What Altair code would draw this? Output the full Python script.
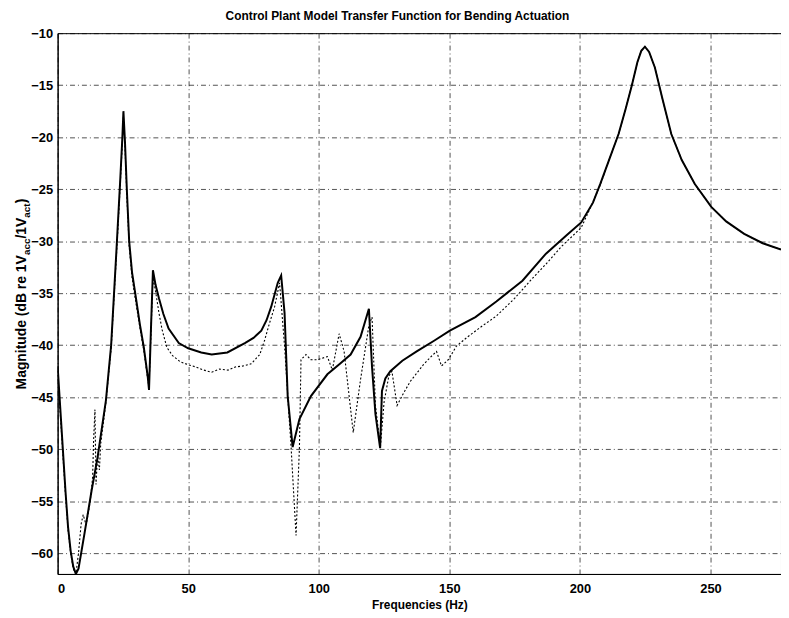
import altair as alt
import pandas as pd

# ---- data ----
freq_model = [0, 1, 2, 3, 4, 5, 6, 7, 8, 10.3, 13, 15.3, 18.5, 20.5, 22.5, 24, 24.8, 25.2, 25.8,
              26.5, 27.4, 28.5, 29.9, 31.5, 33, 34.5, 35, 35.8, 36.5, 37.5, 38.8, 40.5, 42.5, 46.4,
              50, 55, 59, 65, 71.7, 75, 78, 80, 81.8, 84.3, 85.6, 86.9, 88.1, 90, 92.6, 97, 103.3,
              108, 112.2, 116, 119.2, 120.4, 121.7, 123.5, 124.2, 125.5, 127.4, 132, 137.5, 144,
              150.2, 160, 168, 178, 187, 195, 200.5, 205, 207.8, 211, 214.8, 217.5, 219.9, 222,
              223.5, 224.9, 226.5, 228.7, 231.5, 235, 239, 244, 250.3, 256, 262.9, 270, 277]
mag_model = [-42, -46, -50, -54, -57.5, -59.8, -61.3, -62, -61.5, -58.1, -54, -50.8, -45.3, -40,
             -31, -24, -20, -17.5, -20.5, -25, -30, -33, -35.3, -38, -40.2, -43, -44.3, -38, -32.8,
             -34.2, -35.5, -37, -38.4, -39.8, -40.3, -40.7, -40.9, -40.7, -39.8, -39.3, -38.6,
             -37.6, -36.3, -34, -33.3, -36.9, -44.9, -49.8, -47.1, -44.9, -42.8, -41.8, -40.9,
             -39.2, -36.5, -42.1, -46.6, -49.9, -44.4, -43.2, -42.5, -41.5, -40.6, -39.6, -38.6,
             -37.3, -35.8, -33.8, -31.2, -29.4, -28.2, -26.3, -24.5, -22.3, -19.7, -17.3, -15,
             -12.8, -11.7, -11.3, -11.8, -13.3, -16.2, -19.7, -22.2, -24.5, -26.7, -28.1, -29.3,
             -30.2, -30.8]

freq_meas = [0, 1, 2, 3, 4, 5, 6, 7, 8, 9, 9.8, 10.9, 11.5, 12.5, 13.4, 13.8, 14.3, 14.7, 15.3,
             16, 16.5, 18.5, 20.5, 22.5, 24, 24.8, 25.2, 25.8, 26.5, 27.4, 28.5, 29.9, 31.5, 33,
             34.5, 35, 35.8, 36.5, 37.5, 38.8, 40, 41.8, 44, 47, 50.2, 53, 56, 59, 62, 65.3, 68,
             71, 74.1, 77.4, 79.3, 81, 83.1, 85, 86.9, 89.4, 91.3, 92.6, 93.2, 95.1, 97, 99.5,
             103.3, 105.2, 107.8, 109.7, 113.2, 116, 119.2, 120.4, 121.7, 123.6, 125, 126.8, 128,
             130, 132.5, 135, 137.5, 140, 142.6, 145.1, 147, 149.6, 152.7, 157, 162.9, 168, 175,
             181, 187, 193, 200.5, 204, 207.8, 211, 214.8, 217.5, 219.9, 222, 223.5, 224.9,
             226.5, 228.7, 231.5, 235, 239, 244, 250.3, 256, 262.9, 270, 277]
mag_meas = [-42.5, -46.5, -50.5, -54.3, -57.8, -60, -61.5, -62, -60, -57.2, -56.3, -57.3, -56.5,
            -55, -52.7, -49, -46.2, -53.4, -50.6, -52, -49.5, -45.5, -40.3, -31.5, -24.5, -20.5,
            -18, -21, -25.5, -30.5, -33.5, -35.8, -38.3, -40.5, -43.3, -44, -38.5, -33.5, -34.8,
            -36.9, -38.5, -40.2, -41, -41.6, -41.9, -42.1, -42.4, -42.6, -42.3, -42.4, -42.1, -42,
            -41.8, -40.9, -39.5, -38, -36.3, -34, -40.1, -49.8, -58.3, -49.8, -41.4, -40.9, -41.4,
            -41.4, -41.1, -42.4, -38.9, -40.6, -48.4, -43.3, -38.1, -37.3, -45.8, -49.8, -45.5,
            -43, -42.5, -45.8, -44.6, -43.5, -42.7, -41.9, -41.2, -40.6, -42, -41.4, -40.1, -39.2,
            -38.1, -37.2, -35.5, -33.8, -32.2, -30.5, -28.7, -26.8, -24.6, -22.3, -19.7, -17.3,
            -15, -12.8, -11.7, -11.3, -11.8, -13.3, -16.2, -19.7, -22.2, -24.5, -26.7, -28.1,
            -29.3, -30.2, -30.8]

x_ticks = [0, 50, 100, 150, 200, 250]
y_ticks = [-10, -15, -20, -25, -30, -35, -40, -45, -50, -55, -60]
title_text = "Control Plant Model Transfer Function for Bending Actuation"
x_title = "Frequencies (Hz)"
ylabel_parts = ["Magnitude (dB re 1V", "acc", "/1V", "act", ")"]

# ---- styling / layout ----
FONT = "Liberation Sans"
W, H = 729, 545
x_dom = [0, 277]
y_dom = [-62, -10]

model_df = pd.DataFrame({"freq": freq_model, "mag": mag_model})
meas_df = pd.DataFrame({"freq": freq_meas, "mag": mag_meas})
one_row = pd.DataFrame({"k": [0]})

x_enc = alt.X("freq:Q",
              scale=alt.Scale(domain=x_dom, nice=False, zero=False),
              axis=alt.Axis(values=x_ticks, title=x_title, format="d"))
y_enc = alt.Y("mag:Q",
              scale=alt.Scale(domain=y_dom, nice=False, zero=False),
              axis=alt.Axis(values=y_ticks, title="", format="d"))

meas = alt.Chart(meas_df).mark_line(
    color="black", strokeWidth=1.1, strokeDash=[2, 2], clip=True
).encode(x=x_enc, y=y_enc)

model = alt.Chart(model_df).mark_line(
    color="black", strokeWidth=2, clip=True
).encode(x=x_enc, y=y_enc)

# y-axis title with subscripts, built from rotated text pieces
MAIN, SUB = 14, 10
main_x, sub_x = -32, -28
piece_pos = [(main_x, 359, MAIN), (sub_x, 223.6, SUB), (main_x, 207.0, MAIN),
             (sub_x, 186.0, SUB), (main_x, 171.5, MAIN)]
pieces = []
for txt, (px, py, fs) in zip(ylabel_parts, piece_pos):
    pieces.append(
        alt.Chart(one_row).mark_text(
            text=txt, angle=270, align="left", baseline="alphabetic",
            font=FONT, fontSize=fs, fontWeight="bold", color="black"
        ).encode(x=alt.value(px), y=alt.value(py))
    )

chart = alt.layer(meas, model, *pieces).properties(
    width=W, height=H,
    title=alt.TitleParams(text=title_text, font=FONT, fontSize=12, fontWeight="bold",
                          anchor="middle", dx=-22, offset=4, color="black"),
    autosize=alt.AutoSizeParams(type="none"),
    padding={"left": 50, "top": 23, "right": 0, "bottom": 40},
).configure_view(
    stroke="black", strokeWidth=1
).configure_axis(
    labelFont=FONT, labelFontSize=13, labelFontWeight="bold", labelColor="black",
    titleFont=FONT, titleFontSize=12, titleFontWeight="bold", titleColor="black",
    domainColor="black", domainWidth=1, tickSize=0,
    grid=True, gridColor="black", gridDash=[5, 3, 1, 3], gridWidth=0.8, gridOpacity=0.85,
).configure_axisX(
    labelPadding=9, titlePadding=4
).configure_axisY(
    labelPadding=5
)

chart.save("out.html", embed_options={"renderer": "svg", "actions": False})
